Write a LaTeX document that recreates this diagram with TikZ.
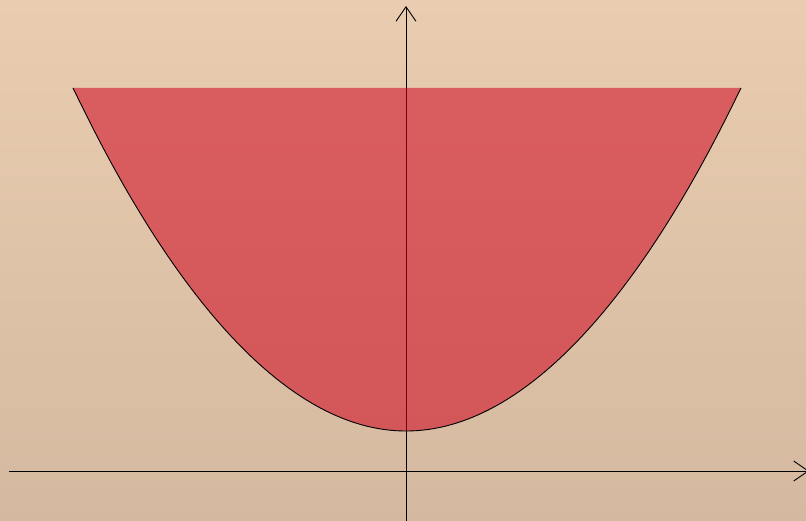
\documentclass[tikz,border=0pt]{standalone}
\usetikzlibrary{arrows.meta}
\definecolor{bgtop}{RGB}{234,205,176}
\definecolor{bgbot}{RGB}{212,185,160}
\definecolor{regfill}{RGB}{208,4,30}
\begin{document}
\begin{tikzpicture}[x=1pt,y=-1pt,
  axisline/.style={black,line width=0.9pt,-{Straight Barb[length=14.5pt,width=20pt]}},
  region/.style={fill=regfill,fill opacity=0.55},
  curve/.style={black,line width=0.9pt}]
\useasboundingbox (0,0) rectangle (806,521);
\shade[top color=bgtop,bottom color=bgbot] (0,0) rectangle (806,521);
\coordinate (xs) at (9,471);
\coordinate (xe) at (809,471);
\coordinate (ys) at (406,525);
\coordinate (ye) at (406,6);
\coordinate (pl) at (73,88);
\coordinate (pv) at (406,431);
\coordinate (pr) at (741,88);
\draw[axisline] (xs) -- (xe);
\draw[axisline] (ys) -- (ye);
\fill[region] (pl) parabola bend (pv) (pr) -- cycle;
\draw[curve] (pl) parabola bend (pv) (pr);
\end{tikzpicture}
\end{document}
